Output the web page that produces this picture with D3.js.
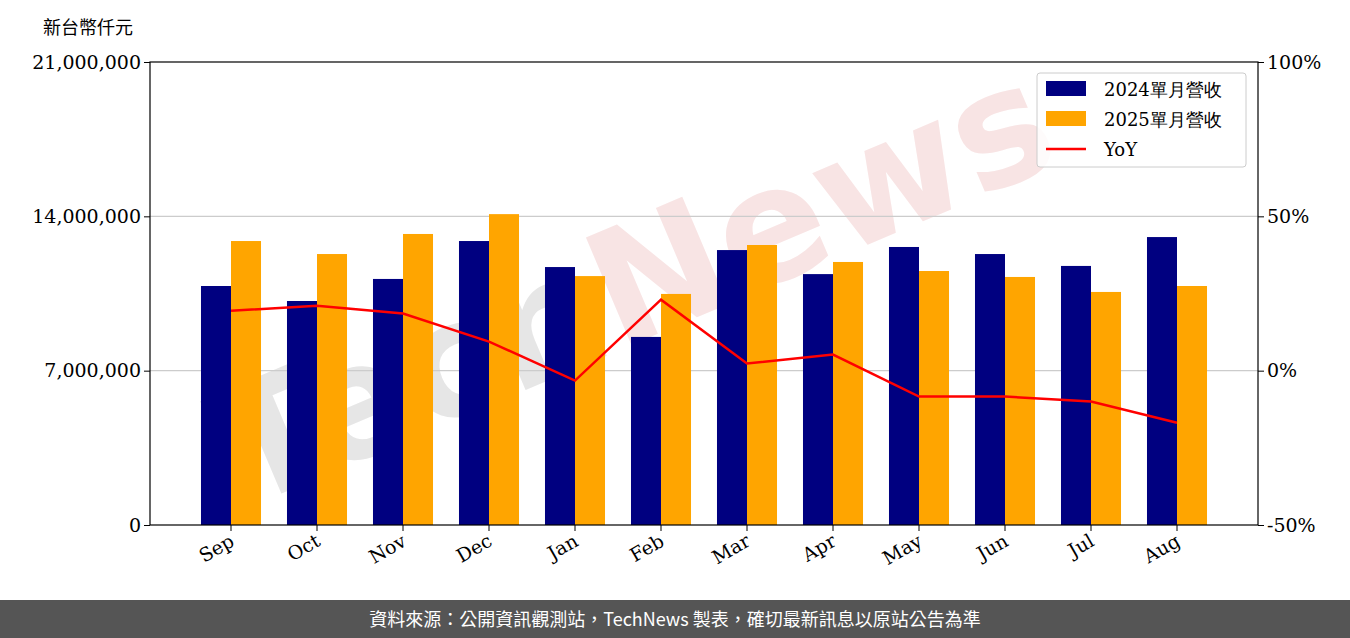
<!DOCTYPE html>
<html><head><meta charset="utf-8">
<script src="https://cdn.jsdelivr.net/npm/d3@7"></script>
<style>
body{margin:0;background:#fff;}
svg{display:block;}
</style></head>
<body>
<svg id="chart" width="1350" height="638"></svg>
<script>
// chart data
const months = ['Sep','Oct','Nov','Dec','Jan','Feb','Mar','Apr','May','Jun','Jul','Aug'];
const rev2024 = [10840000,10160000,11160000,12880000,11700000,8530000,12470000,11380000,12610000,12290000,11750000,13060000];
const rev2025 = [12880000,12290000,13200000,14100000,11290000,10480000,12700000,11930000,11520000,11250000,10570000,10840000];
const yoy = [19.4,21.0,18.5,9.4,-3.2,23.0,2.3,5.2,-8.4,-8.4,-10.0,-16.9];
const leftTicks = [0,7000000,14000000,21000000];
const rightTicks = [-50,0,50,100];

const svg = d3.select('#chart');
const m = {left:150, right:1258, top:62, bottom:525};
const serif = '"DejaVu Serif", "Liberation Serif", serif';
const cjk = '"Noto Sans CJK TC", sans-serif';

// watermark
const wm = svg.append('text')
    .attr('transform', 'translate(655,335) rotate(-23)')
    .attr('text-anchor', 'middle')
    .attr('font-family', '"DejaVu Sans", sans-serif')
    .attr('font-weight', 'bold')
    .attr('font-size', 160);
wm.append('tspan').attr('fill', '#e6e6e6').text('Tech');
wm.append('tspan').attr('fill', '#f8e4e4').text('News');

const x = d3.scaleBand().domain(months).range([188, 1220]).paddingInner(0.302).paddingOuter(0.151);
const y = d3.scaleLinear().domain([0, 21000000]).range([m.bottom, m.top]);
const y2 = d3.scaleLinear().domain([-50, 100]).range([m.bottom, m.top]);

// gridlines
svg.append('g').selectAll('line').data(leftTicks.slice(1, 3)).enter().append('line')
    .attr('x1', m.left).attr('x2', m.right)
    .attr('y1', d => y(d)).attr('y2', d => y(d))
    .attr('stroke', '#cccccc').attr('stroke-width', 1.2);

const bw = x.bandwidth() / 2;
svg.append('g').selectAll('rect').data(rev2024).enter().append('rect')
    .attr('x', (d, i) => x(months[i])).attr('y', d => y(d))
    .attr('width', bw).attr('height', d => m.bottom - y(d))
    .attr('fill', '#000080');
svg.append('g').selectAll('rect').data(rev2025).enter().append('rect')
    .attr('x', (d, i) => x(months[i]) + bw).attr('y', d => y(d))
    .attr('width', bw).attr('height', d => m.bottom - y(d))
    .attr('fill', '#ffa500');

const line = d3.line().x((d, i) => x(months[i]) + bw).y(d => y2(d));
svg.append('path').datum(yoy).attr('d', line)
    .attr('fill', 'none').attr('stroke', '#ff0000').attr('stroke-width', 2.5);

// frame
svg.append('rect').attr('x', m.left).attr('y', m.top)
    .attr('width', m.right - m.left).attr('height', m.bottom - m.top)
    .attr('fill', 'none').attr('stroke', '#000').attr('stroke-width', 1.2);

// axes
const fmt = d3.format(',');
const la = svg.append('g').attr('transform', `translate(${m.left},0)`)
    .call(d3.axisLeft(y).tickValues(leftTicks).tickFormat(fmt).tickSize(6));
const ra = svg.append('g').attr('transform', `translate(${m.right},0)`)
    .call(d3.axisRight(y2).tickValues(rightTicks).tickFormat(d => d + '%').tickSize(6));
const ba = svg.append('g').attr('transform', `translate(0,${m.bottom})`)
    .call(d3.axisBottom(x).tickSize(6));
[la, ra, ba].forEach(g => {
    g.select('.domain').remove();
    g.selectAll('text').attr('font-family', serif).attr('font-size', 19).attr('fill', '#000');
});
ba.selectAll('text').attr('text-anchor', 'end').attr('dy', 0)
    .attr('transform', 'translate(0,12) rotate(-30)');

svg.append('text').attr('x', 43).attr('y', 34)
    .attr('font-family', cjk).attr('font-size', 18).text('新台幣仟元');

// legend
const lg = svg.append('g').attr('transform', 'translate(1037,73)');
lg.append('rect').attr('width', 209).attr('height', 94).attr('rx', 3)
    .attr('fill', '#fff').attr('fill-opacity', 0.85).attr('stroke', '#ccc');
const items = [['2024單月營收', '#000080', 'rect'], ['2025單月營收', '#ffa500', 'rect'], ['YoY', '#ff0000', 'line']];
items.forEach((it, i) => {
    const cy = 16 + i * 30;
    if (it[2] === 'rect') lg.append('rect').attr('x', 9).attr('y', cy - 8).attr('width', 40).attr('height', 15).attr('fill', it[1]);
    else lg.append('line').attr('x1', 9).attr('x2', 49).attr('y1', cy).attr('y2', cy).attr('stroke', it[1]).attr('stroke-width', 2.5);
    lg.append('text').attr('x', 67).attr('y', cy + 7)
        .attr('font-family', serif).attr('font-size', 18).text(it[0]);
});

// footer
svg.append('rect').attr('x', 0).attr('y', 600).attr('width', 1350).attr('height', 38).attr('fill', '#555555');
svg.append('text').attr('x', 675).attr('y', 626).attr('text-anchor', 'middle')
    .attr('font-family', cjk).attr('font-size', 18).attr('fill', '#fff')
    .text('資料來源：公開資訊觀測站，TechNews 製表，確切最新訊息以原站公告為準');
</script>
</body></html>
